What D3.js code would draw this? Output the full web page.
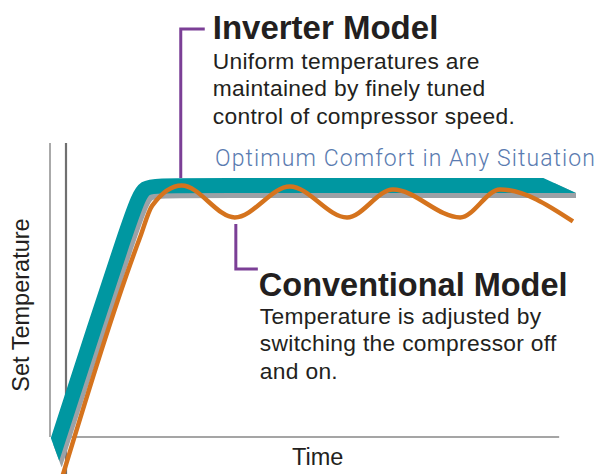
<!DOCTYPE html>
<html lang="en">
<head>
    <meta charset="utf-8">
    <title>Inverter vs Conventional</title>
    <script src="https://d3js.org/d3.v7.min.js"></script>
    <style>
        body { margin: 0; background: #fff; }
        text { font-family: "Liberation Sans", Arial, sans-serif; fill: #231f20; }
    </style>
</head>
<body>
    <svg width="601" height="474"></svg>

    <script>
        // Inverter model: time (0-100) and temperature (% of set point)
        var inverterTime = [-2.8, 13.4, 15.3, 19.2, 100];
        var inverterTemp = [-9, 92.5, 100, 100, 100];

        // Conventional model: on/off cycling around the set point
        var conventionalTime = [-0.8, 14.5, 16.9, 22.7, 33.1, 43.9, 55.1, 64.1, 77.3, 85.1, 99.4];
        var conventionalTemp = [-16.3, 79.3, 92.0, 100, 87.3, 99.6, 87.3, 98.4, 87.3, 98.4, 85.7];

        // Annotation texts
        var inverterTitle = "Inverter Model";
        var inverterLines = ["Uniform temperatures are", "maintained by finely tuned", "control of compressor speed."];
        var conventionalTitle = "Conventional Model";
        var conventionalLines = ["Temperature is adjusted by", "switching the compressor off", "and on."];
        var comfortLabel = "Optimum Comfort in Any Situation";
        var xLabel = "Time";
        var yLabel = "Set Temperature";

        var svg = d3.select("svg");

        // Scales
        var x = d3.scaleLinear().domain([0, 100]).range([66, 576]);
        var y = d3.scaleLinear().domain([0, 100]).range([437, 185.5]);

        var teal = "#0097a1", grey = "#9ca1a6", orange = "#d5731d", purple = "#7b3f96";
        var bandW = 15;

        // frame / axes
        svg.append("line")
            .attr("x1", 50).attr("x2", 50)
            .attr("y1", 143).attr("y2", y(0))
            .attr("stroke", "#8e8e8e").attr("stroke-width", 1.5);
        svg.append("line")
            .attr("x1", x(0) + 2).attr("x2", x(96.7))
            .attr("y1", y(0)).attr("y2", y(0))
            .attr("stroke", "#a5a5a5").attr("stroke-width", 2);
        svg.append("line")
            .attr("x1", x(0)).attr("x2", x(0))
            .attr("y1", 143).attr("y2", 474)
            .attr("stroke", "#707070").attr("stroke-width", 2.2);

        // clip for the cut ends of the inverter band
        svg.append("clipPath").attr("id", "bandClip")
            .append("polygon")
            .attr("points", [
                [0, 0], [x(93.6), 0], [x(93.6), y(100) - bandW / 2],
                [x(100), y(100) + bandW / 2], [x(100), 474],
                [64, 474], [0, 299]
            ].map(function(p) { return p.join(","); }).join(" "));

        var inverterData = inverterTime.map(function(t, i) { return [t, inverterTemp[i]]; });
        var conventionalData = conventionalTime.map(function(t, i) { return [t, conventionalTemp[i]]; });

        // basis curve gives the rounded corner of the band
        var bandLine = d3.line()
            .x(function(d) { return x(d[0]); })
            .y(function(d) { return y(d[1]); })
            .curve(d3.curveBasis);

        var band = svg.append("g").attr("clip-path", "url(#bandClip)");

        // grey shadow under the band
        band.append("path")
            .datum(inverterData)
            .attr("d", bandLine)
            .attr("transform", "translate(3,5)")
            .attr("fill", "none")
            .attr("stroke", grey)
            .attr("stroke-width", bandW);

        // teal inverter band
        band.append("path")
            .datum(inverterData)
            .attr("d", bandLine)
            .attr("fill", "none")
            .attr("stroke", teal)
            .attr("stroke-width", bandW);

        // orange conventional curve
        var curveLine = d3.line()
            .x(function(d) { return x(d[0]); })
            .y(function(d) { return y(d[1]); })
            .curve(d3.curveMonotoneX);

        svg.append("path")
            .datum(conventionalData)
            .attr("d", curveLine)
            .attr("fill", "none")
            .attr("stroke", orange)
            .attr("stroke-width", 4.5);

        // Inverter annotation
        var ix = x(22.5);
        svg.append("path")
            .attr("d", "M" + ix + "," + (y(100) - bandW / 2) + "V29H" + (ix + 24))
            .attr("fill", "none").attr("stroke", purple).attr("stroke-width", 3);
        svg.append("text")
            .attr("x", ix + 32).attr("y", 39)
            .style("font-size", "33px").style("font-weight", "bold")
            .text(inverterTitle);
        svg.selectAll(".invLine")
            .data(inverterLines)
            .enter().append("text")
            .attr("x", ix + 32)
            .attr("y", function(d, i) { return 69 + i * 27.3; })
            .style("font-size", "22.8px")
            .style("letter-spacing", "0.3px")
            .text(function(d) { return d; });

        // Conventional annotation
        var cx = x(33.3);
        svg.append("path")
            .attr("d", "M" + cx + ",224V269H" + (cx + 22))
            .attr("fill", "none").attr("stroke", purple).attr("stroke-width", 3);
        svg.append("text")
            .attr("x", cx + 23).attr("y", 296)
            .style("font-size", "32.5px").style("font-weight", "bold")
            .text(conventionalTitle);
        svg.selectAll(".convLine")
            .data(conventionalLines)
            .enter().append("text")
            .attr("x", cx + 24)
            .attr("y", function(d, i) { return 324 + i * 27.3; })
            .style("font-size", "22.8px")
            .style("letter-spacing", "0.3px")
            .text(function(d) { return d; });

        // comfort label
        svg.append("text")
            .attr("x", 215).attr("y", 166)
            .attr("textLength", 380).attr("lengthAdjust", "spacing")
            .style("font-size", "23px")
            .style("font-family", "Roboto, 'Liberation Sans', sans-serif")
            .style("font-weight", 300)
            .style("fill", "#5a7bb0")
            .text(comfortLabel);

        // axis labels
        svg.append("text")
            .attr("x", 292).attr("y", 465)
            .style("font-size", "23.5px")
            .text(xLabel);
        svg.append("text")
            .attr("transform", "translate(29,305) rotate(-90)")
            .attr("text-anchor", "middle")
            .style("font-size", "23.5px")
            .text(yLabel);
    </script>
</body>
</html>
